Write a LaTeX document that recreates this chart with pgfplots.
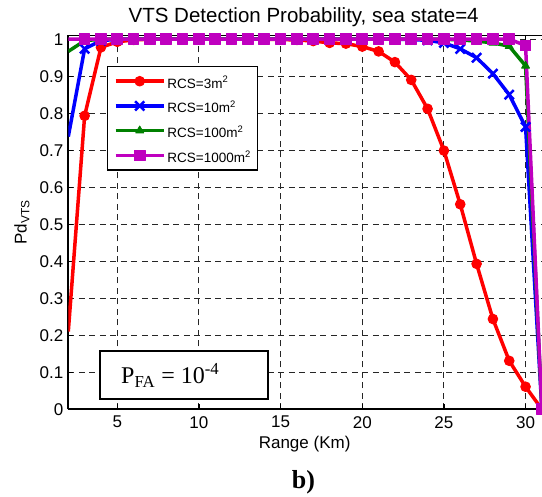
\documentclass[border=0pt]{standalone}
\usepackage{pgfplots}
\pgfplotsset{compat=1.18}
\usepackage{fontspec}
\setmainfont{Liberation Sans}
\newfontfamily\timesfont{Liberation Serif}
\definecolor{mred}{rgb}{1,0,0}
\definecolor{mblue}{rgb}{0,0,1}
\definecolor{mgreen}{rgb}{0,0.5,0}
\definecolor{mmag}{rgb}{0.75,0,0.75}
\begin{document}
\begin{tikzpicture}
\useasboundingbox (0pt,0pt) rectangle (542pt,-497pt);
\begin{axis}[
  at={(68.3pt,-409.3pt)}, anchor=south west,
  scale only axis, width=473.6pt, height=373.8pt,
  xmin=2, xmax=31, ymin=0, ymax=1.01,
  axis x line*=box, axis y line*=left,
  axis line style={line width=1.6pt, black},
  tick style={line width=1.2pt, black},
  tick align=inside, major tick length=5pt,
  grid=major,
  major grid style={line width=0.9pt, black!85, dash pattern=on 6pt off 4.5pt},
  xtick={5,10,15,20,25,30},
  ytick={0,0.1,0.2,0.3,0.4,0.5,0.6,0.7,0.8,0.9,1},
  yticklabels={0,0.1,0.2,0.3,0.4,0.5,0.6,0.7,0.8,0.9,1},
  /pgf/number format/assume math mode=true,
  ticklabel style={font=\fontsize{17}{20}\selectfont, inner sep=0pt},
  xticklabel style={anchor=north, yshift=-6.7pt},
  yticklabel style={anchor=east, xshift=-4.8pt},
  title={VTS Detection Probability, sea state=4},
  every axis title/.style={at={(axis description cs:0.497,1.0342)}, anchor=base, inner sep=0pt, font=\fontsize{20.5}{24}\selectfont},
  xlabel={Range (Km)},
  every axis x label/.style={at={(axis description cs:0.499,-0.1043)}, anchor=base, inner sep=0pt, font=\fontsize{17}{20}\selectfont},
  ylabel={Pd\textsubscript{VTS}},
  every axis y label/.style={at={(axis description cs:-0.0878,0.5)}, rotate=90, anchor=base, inner sep=0pt, font=\fontsize{17}{20}\selectfont},
  legend cell align=left,
  legend style={at={(axis description cs:0.0811,0.919)}, anchor=north west,
    draw=black, line width=1.3pt, fill=white, inner xsep=6.6pt, inner ysep=7.8pt,
    row sep=10.7pt, column sep=2pt, font=\fontsize{13.5}{16}\selectfont,
    nodes={inner sep=0pt, text height=14pt, text depth=0pt}},
  legend image code/.code={\draw[mark repeat=2, mark phase=2, #1] plot coordinates {(0pt,0pt) (24pt,0pt) (48pt,0pt)};},
]
\addplot[mred, line width=3.5pt, line join=round, mark=*, mark size=4.8pt, mark phase=2, mark options={line width=1pt}] coordinates {
(2,0.21)(3,0.793)(4,0.978)(5,0.993)(6,0.998)(7,1)(8,1)(9,1)(10,1)(11,1)(12,1)(13,1)(14,1)(15,0.999)(16,0.998)(17,0.995)(18,0.99)(19,0.988)(20,0.980)(21,0.967)(22,0.938)(23,0.890)(24,0.812)(25,0.699)(26,0.554)(27,0.393)(28,0.244)(29,0.131)(30,0.061)(31,0)};
\addlegendentry{RCS=3m\textsuperscript{2}}
\addplot[mblue, line width=3.5pt, line join=round, mark=x, mark size=6.5pt, mark phase=2, mark options={line width=2.5pt}] coordinates {
(2,0.737)(3,0.974)(4,0.996)(5,1)(6,1)(7,1)(8,1)(9,1)(10,1)(11,1)(12,1)(13,1)(14,1)(15,1)(16,1)(17,1)(18,1)(19,1)(20,1)(21,1)(22,1)(23,0.999)(24,0.997)(25,0.99)(26,0.974)(27,0.95)(28,0.907)(29,0.85)(30,0.763)(31,0)};
\addlegendentry{RCS=10m\textsuperscript{2}}
\addplot[mgreen, line width=3.5pt, line join=round, mark=triangle*, mark size=4.5pt, mark phase=2, mark options={line width=1pt}] coordinates {
(2,0.967)(3,0.996)(4,1)(5,1)(6,1)(7,1)(8,1)(9,1)(10,1)(11,1)(12,1)(13,1)(14,1)(15,1)(16,1)(17,1)(18,1)(19,1)(20,1)(21,1)(22,1)(23,1)(24,1)(25,1)(26,0.998)(27,0.995)(28,0.99)(29,0.981)(30,0.928)(31,0)};
\addlegendentry{RCS=100m\textsuperscript{2}}
\addplot[mmag, line width=3.5pt, line join=round, mark=square*, mark size=5.3pt, mark phase=2, mark options={line width=1pt}] coordinates {
(2,1)(3,1)(4,1)(5,1)(6,1)(7,1)(8,1)(9,1)(10,1)(11,1)(12,1)(13,1)(14,1)(15,1)(16,1)(17,1)(18,1)(19,1)(20,1)(21,1)(22,1)(23,1)(24,1)(25,1)(26,1)(27,1)(28,1)(29,1)(30,0.983)(31,0)};
\addlegendentry{RCS=1000m\textsuperscript{2}}
\draw[line width=2.2pt, fill=white] (axis description cs:0.0669,0.0268) rectangle (axis description cs:0.4223,0.1568);
\node[anchor=base west, inner sep=0pt, font=\timesfont\fontsize{24}{28}\selectfont] at (axis description cs:0.1113,0.0696) {P\textsubscript{FA} = 10\textsuperscript{-4}};
\end{axis}
\node[anchor=base, inner sep=0pt, font=\timesfont\fontsize{26}{30}\selectfont\bfseries] at (303.4pt,-488.5pt) {b)};
\end{tikzpicture}
\end{document}
